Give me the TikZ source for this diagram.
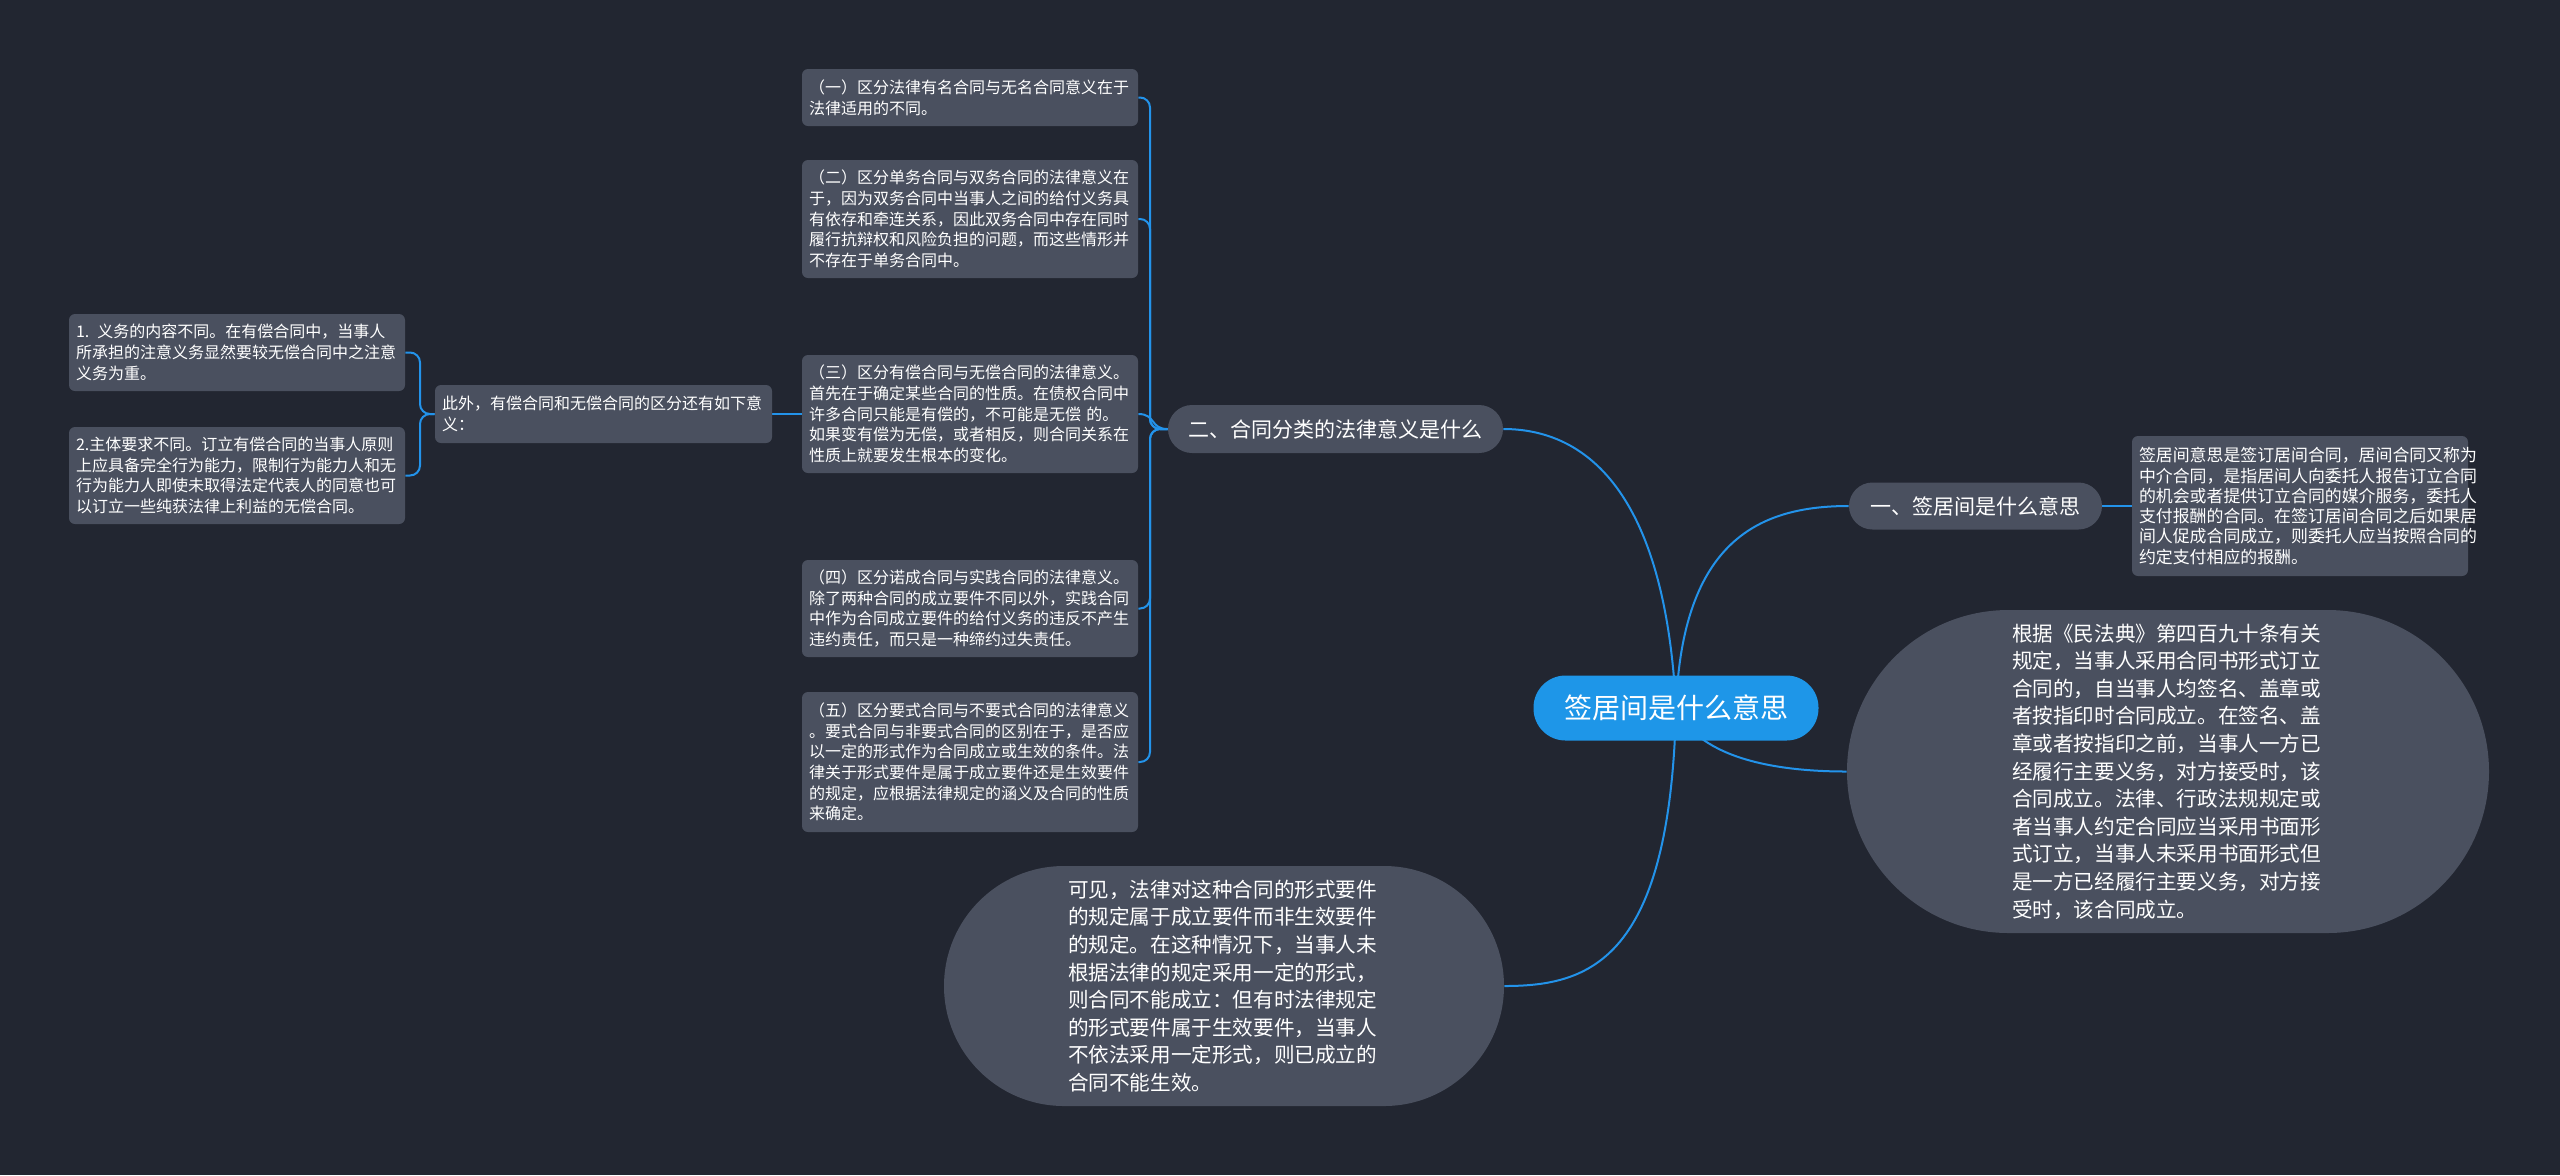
\documentclass[tikz,border=0pt]{standalone}
\usepackage{fontspec}
\setmainfont{Noto Sans CJK SC}
\usetikzlibrary{backgrounds}
\definecolor{bgc}{HTML}{222631}
\definecolor{boxgrey}{HTML}{4A505F}
\definecolor{rootblue}{HTML}{1E96E8}
\definecolor{linkblue}{HTML}{2393EA}
\tikzset{
  rootnode/.style={fill=rootblue, text=white, rounded corners=16pt, minimum width=142.5pt, minimum height=32.5pt, inner sep=0pt, font=\fontsize{14}{17}\selectfont},
  topicnode/.style={fill=boxgrey, text=white, rounded corners=12pt, minimum height=24pt, inner sep=0pt, font=\fontsize{10.5}{13}\selectfont},
  leafbox/.style={fill=boxgrey, text=white, rounded corners=3pt, align=left, text width=161pt, inner xsep=3.5pt, inner ysep=0pt, font=\fontsize{8}{10.35}\selectfont},
  descbox/.style={fill=boxgrey, text=white, rounded corners=3pt, align=left, text width=161pt, inner xsep=3.5pt, inner ysep=0pt, font=\fontsize{8.45}{10.15}\selectfont},
  ovalnode/.style={fill=boxgrey, text=white, align=left, text width=156pt, inner sep=0pt, font=\fontsize{10.3}{13.8}\selectfont},
  link/.style={draw=linkblue, line width=1pt},
}
\begin{document}
\begin{tikzpicture}[x=0.5pt,y=-0.5pt]
\useasboundingbox (0,0) rectangle (2560,1175);

% root and first level
\node[rootnode] (root) at (1676,708) {签居间是什么意思};
\node[topicnode, minimum width=126.5pt, rounded corners=11.75pt, minimum height=23.5pt] (one) at (1975.5,506) {一、签居间是什么意思};
\node[topicnode, minimum width=167.5pt] (two) at (1335.5,429) {二、合同分类的法律意义是什么};

% right side
\node[descbox, minimum height=70pt] (desc) at (2300,506) {签居间意思是签订居间合同，居间合同又称为\\中介合同，是指居间人向委托人报告订立合同\\的机会或者提供订立合同的媒介服务，委托人\\支付报酬的合同。在签订居间合同之后如果居\\间人促成合同成立，则委托人应当按照合同的\\约定支付相应的报酬。};

\node[ovalnode, minimum width=321pt, minimum height=161.5pt, rounded corners=80.75pt] (big) at (2168,771.5) {根据《民法典》第四百九十条有关\\规定，当事人采用合同书形式订立\\合同的，自当事人均签名、盖章或\\者按指印时合同成立。在签名、盖\\章或者按指印之前，当事人一方已\\经履行主要义务，对方接受时，该\\合同成立。法律、行政法规规定或\\者当事人约定合同应当采用书面形\\式订立，当事人未采用书面形式但\\是一方已经履行主要义务，对方接\\受时，该合同成立。};

\node[ovalnode, minimum width=280pt, minimum height=120pt, rounded corners=60pt] (bot) at (1224,986) {可见，法律对这种合同的形式要件\\的规定属于成立要件而非生效要件\\的规定。在这种情况下，当事人未\\根据法律的规定采用一定的形式，\\则合同不能成立：但有时法律规定\\的形式要件属于生效要件，当事人\\不依法采用一定形式，则已成立的\\合同不能生效。};

% second level boxes
\node[leafbox, minimum height=28.5pt] (b1) at (970,97.5) {（一）区分法律有名合同与无名合同意义在于\\法律适用的不同。};
\node[leafbox, minimum height=59pt] (b2) at (970,219) {（二）区分单务合同与双务合同的法律意义在\\于，因为双务合同中当事人之间的给付义务具\\有依存和牵连关系，因此双务合同中存在同时\\履行抗辩权和风险负担的问题，而这些情形并\\不存在于单务合同中。};
\node[leafbox, minimum height=59pt] (b3) at (970,414) {（三）区分有偿合同与无偿合同的法律意义。\\首先在于确定某些合同的性质。在债权合同中\\许多合同只能是有偿的，不可能是无偿 的。\\如果变有偿为无偿，或者相反，则合同关系在\\性质上就要发生根本的变化。};
\node[leafbox, minimum height=48.5pt] (b4) at (970,608.5) {（四）区分诺成合同与实践合同的法律意义。\\除了两种合同的成立要件不同以外，实践合同\\中作为合同成立要件的给付义务的违反不产生\\违约责任，而只是一种缔约过失责任。};
\node[leafbox, minimum height=70pt] (b5) at (970,762) {（五）区分要式合同与不要式合同的法律意义\\。要式合同与非要式合同的区别在于，是否应\\以一定的形式作为合同成立或生效的条件。法\\律关于形式要件是属于成立要件还是生效要件\\的规定，应根据法律规定的涵义及合同的性质\\来确定。};

\node[leafbox, minimum height=29pt, text width=161.5pt] (extra) at (603.5,414) {此外，有偿合同和无偿合同的区分还有如下意\\义：};

\node[leafbox, minimum height=38.5pt] (s1) at (237,352.5) {1. 义务的内容不同。在有偿合同中，当事人\\所承担的注意义务显然要较无偿合同中之注意\\义务为重。};
\node[leafbox, minimum height=48.5pt] (s2) at (237,475.5) {2.主体要求不同。订立有偿合同的当事人原则\\上应具备完全行为能力，限制行为能力人和无\\行为能力人即使未取得法定代表人的同意也可\\以订立一些纯获法律上利益的无偿合同。};

\begin{scope}[on background layer]
\fill[bgc] (0,0) rectangle (2560,1175);
% root links
\draw[link] (root.center) .. controls (1664,470) and (1570,429) .. (two.east);
\draw[link] (root.center) .. controls (1682,540) and (1760,506) .. (one.west);
\draw[link] (root.center) .. controls (1700,760) and (1780,771.5) .. (big.west);
\draw[link] (root.center) .. controls (1670,960) and (1590,986) .. (bot.east);
\draw[link] (one.east) -- (desc.west);
% two -> boxes
\draw[link, rounded corners=5pt] (two.west) -- (1150,429) -- (1150,97.5) -- (b1.east);
\draw[link, rounded corners=5pt] (two.west) -- (1150,429) -- (1150,219) -- (b2.east);
\draw[link] (two.west) .. controls (1150,429) and (1156,414) .. (b3.east);
\draw[link, rounded corners=5pt] (two.west) -- (1150,429) -- (1150,608.5) -- (b4.east);
\draw[link, rounded corners=5pt] (two.west) -- (1150,429) -- (1150,762) -- (b5.east);
% b3 -> extra -> s1, s2
\draw[link] (b3.west) -- (extra.east);
\draw[link, rounded corners=5pt] (extra.west) -- (420,414) -- (420,352.5) -- (s1.east);
\draw[link, rounded corners=5pt] (extra.west) -- (420,414) -- (420,475.5) -- (s2.east);
\end{scope}
\end{tikzpicture}
\end{document}
